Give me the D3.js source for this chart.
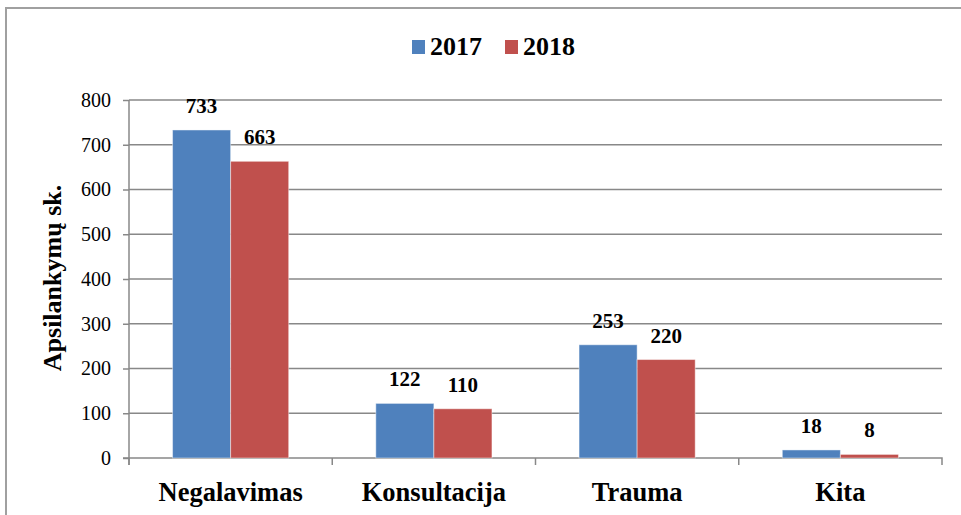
<!DOCTYPE html>
<html>
<head>
<meta charset="utf-8">
<script src="https://cdn.jsdelivr.net/npm/d3@7"></script>
<style>
  body { margin: 0; background: #fff; }
  .grid line { stroke: #888; stroke-width: 1.3; }
  .axis path, .axis line { stroke: #888; stroke-width: 1.5; }
</style>
</head>
<body>
<div id="chart"></div>
<script>
var categories = ['Negalavimas', 'Konsultacija', 'Trauma', 'Kita'];
var seriesNames = ['2017', '2018'];
var values2017 = [733, 122, 253, 18];
var values2018 = [663, 110, 220, 8];
var yTicks = [0, 100, 200, 300, 400, 500, 600, 700, 800];
var colors = ['#4F81BD', '#C0504D'];
var FONT = '"Liberation Serif"';

var width = 961, height = 515;
var svg = d3.select('#chart').append('svg')
  .attr('width', width)
  .attr('height', height)
  .style('font-family', FONT);

// frame
svg.append('path')
  .attr('d', 'M6,' + height + 'V8H' + width)
  .attr('fill', 'none')
  .attr('stroke', '#a0a0a0')
  .attr('stroke-width', 2);

var x = d3.scaleBand()
  .domain(categories)
  .range([129, 942])
  .padding(0);

var xs = d3.scaleBand()
  .domain(seriesNames)
  .range([0, x.bandwidth()])
  .paddingInner(0)
  .paddingOuter(0.75);

var y = d3.scaleLinear()
  .domain([0, 800])
  .range([458, 100]);

// gridlines
svg.append('g').attr('class', 'grid')
  .selectAll('line')
  .data(yTicks.slice(1))
  .enter().append('line')
  .attr('x1', 129).attr('x2', 942)
  .attr('y1', function(d){ return y(d); })
  .attr('y2', function(d){ return y(d); });

// y axis
var yAxis = svg.append('g').attr('class', 'axis')
  .attr('transform', 'translate(129,0)')
  .call(d3.axisLeft(y).tickValues(yTicks).tickSize(6).tickSizeOuter(0).tickPadding(12));
yAxis.attr('font-family', null);
yAxis.selectAll('text')
  .style('font-family', FONT)
  .style('font-size', '20px')
  .attr('fill', '#000');
yAxis.select('.domain').attr('d', 'M0,' + y(800) + 'V465');

// x axis
var xAxis = svg.append('g').attr('class', 'axis')
  .attr('transform', 'translate(0,' + y(0) + ')')
  .call(d3.axisBottom(x).tickSize(0).tickPadding(24));
xAxis.attr('font-family', null);
xAxis.select('.domain').attr('d', 'M123,0H942V7');
xAxis.selectAll('text')
  .style('font-family', FONT)
  .style('font-size', '26.5px')
  .style('font-weight', 'bold')
  .attr('fill', '#000');
xAxis.selectAll('.boundary')
  .data(categories)
  .enter().append('line')
  .attr('x1', function(d){ return x(d); })
  .attr('x2', function(d){ return x(d); })
  .attr('y1', 0).attr('y2', 7);

// bars
var rows = categories.map(function(c, i){
  return { cat: c, vals: [values2017[i], values2018[i]] };
});

var groups = svg.selectAll('.group')
  .data(rows)
  .enter().append('g')
  .attr('class', 'group')
  .attr('transform', function(d){ return 'translate(' + x(d.cat) + ',0)'; });

groups.selectAll('rect')
  .data(function(d){ return d.vals.map(function(v, j){ return { s: seriesNames[j], v: v, j: j }; }); })
  .enter().append('rect')
  .attr('x', function(d){ return xs(d.s); })
  .attr('width', xs.bandwidth())
  .attr('y', function(d){ return y(d.v); })
  .attr('height', function(d){ return y(0) - y(d.v); })
  .attr('fill', function(d){ return colors[d.j]; })
  .attr('stroke', '#fff')
  .attr('stroke-opacity', 0.45)
  .attr('stroke-width', 1);

groups.selectAll('.val')
  .data(function(d){ return d.vals.map(function(v, j){ return { s: seriesNames[j], v: v }; }); })
  .enter().append('text')
  .attr('class', 'val')
  .attr('x', function(d){ return xs(d.s) + xs.bandwidth() / 2; })
  .attr('y', function(d){ return y(d.v) - 17; })
  .attr('text-anchor', 'middle')
  .style('font-family', FONT)
  .style('font-size', '21px')
  .style('font-weight', 'bold')
  .text(function(d){ return d.v; });

// axis title
svg.append('text')
  .attr('transform', 'translate(61,278) rotate(-90)')
  .attr('text-anchor', 'middle')
  .style('font-family', FONT)
  .style('font-size', '26px')
  .style('font-weight', 'bold')
  .text('Apsilankymų sk.');

// legend
var legendX = [412, 505];
var legend = svg.selectAll('.legend')
  .data(seriesNames)
  .enter().append('g')
  .attr('class', 'legend')
  .attr('transform', function(d, i){ return 'translate(' + legendX[i] + ',40)'; });
legend.append('rect')
  .attr('width', 13).attr('height', 14)
  .attr('fill', function(d, i){ return colors[i]; });
legend.append('text')
  .attr('x', 18).attr('y', 15)
  .style('font-family', FONT)
  .style('font-size', '26px')
  .style('font-weight', 'bold')
  .text(function(d){ return d; });
</script>
</body>
</html>
